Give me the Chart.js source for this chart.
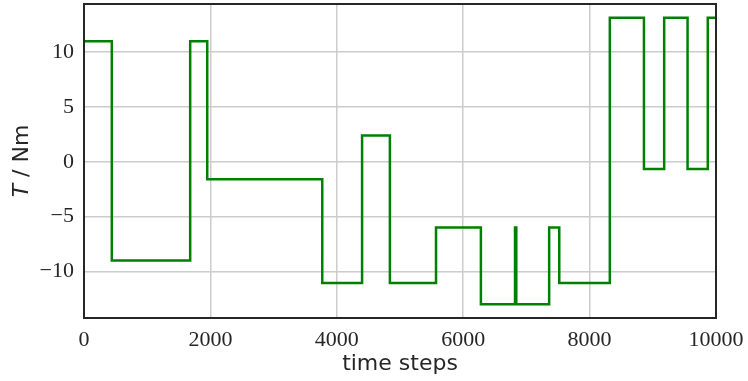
<!DOCTYPE html>
<html>
<head>
<meta charset="utf-8">
<script src="https://cdn.jsdelivr.net/npm/chart.js@4.4.1/dist/chart.umd.min.js"></script>
<style>
  html, body { margin: 0; padding: 0; background: #fff; }
  #wrap { width: 748px; height: 381px; }
</style>
</head>
<body>
<div id="wrap"><canvas id="grafico"></canvas></div>
<script>
// Instantes em que o torque muda (time steps) e o valor mantido a partir dali
const inicioDegrau = [0, 440, 1680, 1950, 3770, 4400, 4840, 5570, 6280, 6820, 6840, 7360, 7520, 8320, 8860, 9180, 9550, 9870, 10000];
const torque       = [11, -9, 11, -1.6, -11.05, 2.4, -11.05, -6, -13, -6, -13, -6, -11.05, 13.15, -0.65, 13.15, -0.65, 13.15, 13.15];
const ticksX = [0, 2000, 4000, 6000, 8000, 10000];
const ticksY = [-10, -5, 0, 5, 10];

const corTexto = '#262626';
const pontos = inicioDegrau.map((x, i) => ({ x: x, y: torque[i] }));

// Moldura e títulos dos eixos
const molduraPlugin = {
  id: 'moldura',
  afterDraw(chart) {
    const { ctx, chartArea: a } = chart;
    ctx.save();
    ctx.strokeStyle = corTexto;
    ctx.lineWidth = 2;
    ctx.strokeRect(a.left, a.top, a.right - a.left, a.bottom - a.top);

    ctx.fillStyle = corTexto;
    ctx.font = '22px "DejaVu Sans"';
    ctx.textAlign = 'center';
    ctx.textBaseline = 'alphabetic';
    ctx.fillText('time steps', (a.left + a.right) / 2, 370);

    // título do eixo y: "T" em itálico
    ctx.translate(28, (a.top + a.bottom) / 2);
    ctx.rotate(-Math.PI / 2);
    ctx.font = 'italic 22px "DejaVu Sans"';
    const t1 = 'T';
    const w1 = ctx.measureText(t1).width;
    ctx.font = '22px "DejaVu Sans"';
    const t2 = ' / Nm';
    const w2 = ctx.measureText(t2).width;
    const x0 = -(w1 + w2) / 2;
    ctx.textAlign = 'left';
    ctx.font = 'italic 22px "DejaVu Sans"';
    ctx.fillText(t1, x0, 0);
    ctx.font = '22px "DejaVu Sans"';
    ctx.fillText(t2, x0 + w1, 0);
    ctx.restore();
  }
};

new Chart(document.getElementById('grafico'), {
  type: 'line',
  data: {
    datasets: [{
      data: pontos,
      stepped: 'before',
      borderColor: '#008000',
      borderWidth: 2.5,
      pointRadius: 0,
      fill: false
    }]
  },
  options: {
    responsive: true,
    maintainAspectRatio: false,
    animation: false,
    layout: { padding: { top: 4, right: 32, left: 0, bottom: 0 } },
    plugins: { legend: { display: false }, tooltip: { enabled: false } },
    scales: {
      x: {
        type: 'linear',
        min: 0,
        max: 10000,
        afterFit(s) { s.height = 63; s.paddingLeft = 0; s.paddingRight = 0; },
        afterBuildTicks(s) { s.ticks = ticksX.map(v => ({ value: v })); },
        grid: { color: '#cccccc', lineWidth: 1.5, drawTicks: false },
        border: { display: false },
        ticks: {
          color: corTexto,
          padding: 9,
          maxRotation: 0,
          font: { family: '"Liberation Serif"', size: 22 },
          callback: v => String(v)
        }
      },
      y: {
        min: -14.25,
        max: 14.4,
        afterFit(s) { s.width = 84; s.paddingTop = 0; s.paddingBottom = 0; },
        afterBuildTicks(s) { s.ticks = ticksY.map(v => ({ value: v })); },
        grid: { color: '#cccccc', lineWidth: 1.5, drawTicks: false },
        border: { display: false },
        ticks: {
          color: corTexto,
          padding: 10,
          font: { family: '"Liberation Serif"', size: 22 },
          callback: v => String(v).replace('-', '\u2212')
        }
      }
    }
  },
  plugins: [molduraPlugin]
});
</script>
</body>
</html>
